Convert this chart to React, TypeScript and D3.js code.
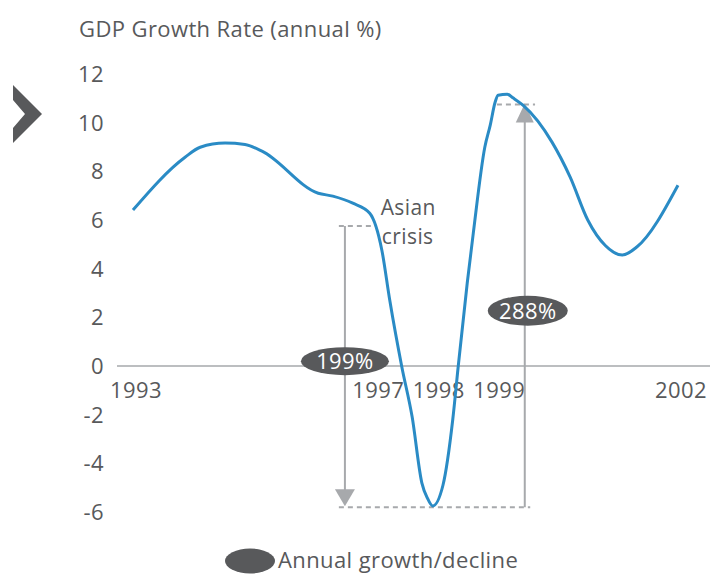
import * as d3 from "d3";

// GDP growth (fractional years)
const years = [
  1992.95, 1993.81, 1994.06, 1994.47, 1994.8, 1995.08, 1996.01, 1996.25, 1996.58, 1996.86,
  1997.06, 1997.19, 1997.39, 1997.56, 1997.72, 1997.81, 1997.9, 1998.07, 1998.23, 1998.32,
  1998.47, 1998.57, 1998.76, 1998.85, 1998.93, 1998.98, 1999.13, 1999.23, 1999.39, 1999.87,
  2000.17, 2000.46, 2000.75, 2001.03, 2001.27, 2001.95,
];
const growth = [
  6.41, 8.58, 8.99, 9.16, 9.1, 8.83, 7.1, 6.98, 6.69, 6.28,
  4.76, 2.71, -0.04, -2.09, -4.8, -5.42, -5.75, -4.89, -2.22, -0.04,
  3.41, 5.46, 8.99, 9.9, 10.84, 11.13, 11.17, 11.01, 10.72, 9.2,
  7.76, 6.0, 4.95, 4.56, 4.89, 7.43,
];

const yTicks = [12, 10, 8, 6, 4, 2, 0, -2, -4, -6];
const xTickYears = [1993, 1997, 1998, 1999, 2002];

// annotation levels
const crisisLevel = 5.75;
const troughLevel = -5.8;
const reboundLevel = 10.75;
const declineYear = 1996.45;
const reboundYear = 1999.42;
const declineLabel = "199%";
const reboundLabel = "288%";
const declineLabelValue = 0.2;
const reboundLabelValue = 2.27;

const TEXT = "#58595b";
const GREY = "#a7a9ac";
const DARK = "#58595b";
const BLUE = "#2a8bc5";
const FONT = "'Open Sans', 'Noto Sans', sans-serif";
const FS = 22;
const LS = 0.4;

const App = () => {
  const x = d3.scaleLinear().domain([1993, 2002]).range([136, 681]);
  const y = d3.scaleLinear().domain([-6, 12]).range([512, 74]);

  const pts: [number, number][] = years.map((yr, i) => [yr, growth[i]]);
  const line = d3
    .line<[number, number]>()
    .x((d) => x(d[0]))
    .y((d) => y(d[1]))
    .curve(d3.curveMonotoneX);

  const xd = x(declineYear);
  const xr = x(reboundYear);

  return (
    <svg
      width={712}
      height={574}
      style={{ position: "absolute", left: 0, top: 0, fontFamily: FONT, letterSpacing: LS }}
    >
      <rect width={712} height={574} fill="#fff" />

      {/* chevron */}
      <polygon points="13,85 42,114 13,143 13,128 25,114 13,100" fill={DARK} />

      <text x={79} y={37} fontSize={FS} fill={TEXT}>
        GDP Growth Rate (annual %)
      </text>

      {/* y tick labels */}
      {yTicks.map((t) => (
        <text
          key={t}
          x={104}
          y={y(t)}
          dy="0.36em"
          textAnchor="end"
          fontSize={FS}
          fill={TEXT}
        >
          {t}
        </text>
      ))}

      {/* zero line */}
      <line x1={117} x2={710} y1={y(0)} y2={y(0)} stroke="#bcbec0" strokeWidth={2} />

      {/* x tick labels */}
      {xTickYears.map((t) => (
        <text key={t} x={x(t)} y={398} textAnchor="middle" fontSize={FS} fill={TEXT}>
          {t}
        </text>
      ))}

      {/* dashed reference lines */}
      <g stroke={GREY} strokeWidth={2} strokeDasharray="5,4">
        <line x1={x(1996.35)} x2={x(1996.95)} y1={y(crisisLevel)} y2={y(crisisLevel)} />
        <line x1={x(1996.35)} x2={x(1999.51)} y1={y(troughLevel)} y2={y(troughLevel)} />
        <line x1={x(1998.96)} x2={x(1999.59)} y1={y(reboundLevel)} y2={y(reboundLevel)} />
      </g>

      {/* decline arrow */}
      <line x1={xd} x2={xd} y1={y(crisisLevel)} y2={y(troughLevel) - 15} stroke={GREY} strokeWidth={2} />
      <polygon
        points={`${xd - 10},${y(troughLevel) - 18} ${xd + 10},${y(troughLevel) - 18} ${xd},${y(troughLevel) - 1}`}
        fill={GREY}
      />

      {/* rebound arrow */}
      <line x1={xr} x2={xr} y1={y(troughLevel)} y2={y(reboundLevel) + 15} stroke={GREY} strokeWidth={2} />
      <polygon
        points={`${xr - 9},${y(reboundLevel) + 18} ${xr + 9},${y(reboundLevel) + 18} ${xr},${y(reboundLevel) - 1}`}
        fill={GREY}
      />

      {/* growth line */}
      <path d={line(pts) ?? ""} fill="none" stroke={BLUE} strokeWidth={3} strokeLinejoin="round" />

      <text x={x(1997.04)} y={215} fontSize={21} fill={TEXT}>
        Asian
      </text>
      <text x={x(1997.06)} y={244} fontSize={21} fill={TEXT}>
        crisis
      </text>

      {/* percentage bubbles */}
      <ellipse cx={xd} cy={y(declineLabelValue)} rx={44} ry={14} fill={DARK} />
      <text x={xd} y={y(declineLabelValue)} dy="0.36em" textAnchor="middle" fontSize={FS} fill="#fff">
        {declineLabel}
      </text>
      <ellipse cx={xr + 3} cy={y(reboundLabelValue)} rx={40} ry={15} fill={DARK} />
      <text x={xr + 3} y={y(reboundLabelValue)} dy="0.36em" textAnchor="middle" fontSize={FS} fill="#fff">
        {reboundLabel}
      </text>

      {/* legend */}
      <ellipse cx={250} cy={561} rx={25} ry={12.5} fill={DARK} />
      <text x={278} y={568} fontSize={FS} fill={TEXT}>
        Annual growth/decline
      </text>
    </svg>
  );
};

export default App;
